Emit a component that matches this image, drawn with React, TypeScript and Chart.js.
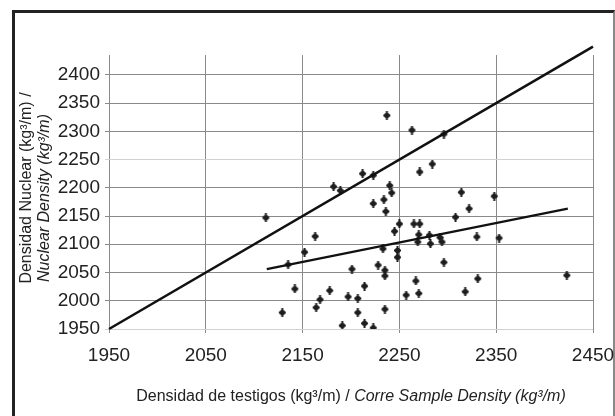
import { useEffect, useRef } from "react";
import { Chart, registerables } from "chart.js";
Chart.register(...registerables);

const coreDensity = [
  2112, 2163, 2152, 2135, 2142, 2178, 2168, 2164, 2129, 2197, 2191,
  2223, 2234, 2236, 2250, 2245, 2265, 2271, 2270, 2269, 2281, 2282,
  2292, 2294, 2308, 2322, 2233, 2248, 2248, 2296, 2201, 2228, 2235,
  2235, 2214, 2267, 2270, 2257, 2318, 2207, 2207, 2235, 2214, 2223,
  2237, 2263, 2296, 2284, 2271, 2212, 2223, 2182, 2189, 2240, 2242,
  2314, 2348, 2330, 2353, 2331, 2423,
];
const nuclearDensity = [
  2147, 2114, 2086, 2064, 2021, 2018, 2002, 1988, 1979, 2007, 1956,
  2172, 2179, 2158, 2136, 2123, 2136, 2136, 2117, 2104, 2116, 2101,
  2112, 2104, 2148, 2163, 2092, 2089, 2077, 2068, 2056, 2063, 2054,
  2044, 2026, 2035, 2013, 2010, 2016, 2004, 1979, 1985, 1960, 1952,
  2328, 2302, 2295, 2242, 2228, 2225, 2222, 2202, 2195, 2204, 2191,
  2192, 2185, 2113, 2111, 2039, 2045,
];
const identityX = [1950, 2450];
const identityY = [1950, 2450];
const trendX = [2113, 2424];
const trendY = [2056, 2163];
const xTicks = [1950, 2050, 2150, 2250, 2350, 2450];
const yTicks = [1950, 2000, 2050, 2100, 2150, 2200, 2250, 2300, 2350, 2400];
const xTitleA = "Densidad de testigos (kg³/m) / ";
const xTitleB = "Corre Sample Density (kg³/m)";
const yTitleA = "Densidad Nuclear (kg³/m) /";
const yTitleB = "Nuclear Density (kg³/m)";

const FONT = "'Liberation Sans', Arial, sans-serif";
const TITLE_SIZE = 16;

function makeMarker() {
  const c = document.createElement("canvas");
  c.width = 9;
  c.height = 9;
  const g = c.getContext("2d")!;
  g.fillStyle = "#1e1e1e";
  g.fillRect(3.5, 0, 2, 9);
  g.fillRect(1, 3.5, 7, 2);
  g.beginPath();
  g.arc(4.5, 4.5, 2.7, 0, Math.PI * 2);
  g.fill();
  return c;
}

const titlePlugin = {
  id: "titles",
  afterDraw(chart: any) {
    const ctx = chart.ctx as CanvasRenderingContext2D;
    const a = chart.chartArea;
    ctx.save();
    ctx.fillStyle = "#222";
    ctx.textBaseline = "middle";
    const normal = `${TITLE_SIZE}px ${FONT}`;
    const italic = `italic ${TITLE_SIZE}px ${FONT}`;
    // x title
    ctx.font = normal;
    const wA = ctx.measureText(xTitleA).width;
    ctx.font = italic;
    const wB = ctx.measureText(xTitleB).width;
    const cx = (a.left + a.right) / 2;
    const x0 = cx - (wA + wB) / 2;
    ctx.textAlign = "left";
    ctx.font = normal;
    ctx.fillText(xTitleA, x0, 397);
    ctx.font = italic;
    ctx.fillText(xTitleB, x0 + wA, 397);
    // y title
    const cy = (a.top + a.bottom) / 2;
    ctx.translate(0, cy);
    ctx.rotate(-Math.PI / 2);
    ctx.textAlign = "center";
    ctx.font = normal;
    ctx.fillText(yTitleA, 4, 27);
    ctx.font = italic;
    ctx.fillText(yTitleB, -6, 45);
    ctx.restore();
  },
};

export default function App() {
  const ref = useRef<HTMLCanvasElement>(null);
  useEffect(() => {
    const marker = makeMarker();
    const pts = coreDensity.map((x, i) => ({ x, y: nuclearDensity[i] }));
    const gridColor = (c: any) =>
      c.tick && (c.tick.value === 2250 || c.tick.value === 1950) ? "#d2d2d2" : "#8a8a8a";
    const chart = new Chart(ref.current!, {
      type: "scatter",
      data: {
        datasets: [
          {
            data: identityX.map((x, i) => ({ x, y: identityY[i] })),
            showLine: true,
            borderColor: "#111",
            borderWidth: 2.6,
            pointRadius: 0,
            clip: false as any,
          },
          {
            data: trendX.map((x, i) => ({ x, y: trendY[i] })),
            showLine: true,
            borderColor: "#111",
            borderWidth: 2.2,
            pointRadius: 0,
          },
          {
            data: pts,
            pointStyle: marker as any,
            pointRadius: 4,
            showLine: false,
          },
        ],
      },
      options: {
        animation: false,
        responsive: false,
        layout: { padding: { top: 55, right: 22, left: 0, bottom: 0 } },
        plugins: { legend: { display: false }, tooltip: { enabled: false } },
        scales: {
          x: {
            type: "linear",
            min: 1950,
            max: 2450,
            afterBuildTicks: (s: any) => {
              s.ticks = xTicks.map((v) => ({ value: v }));
            },
            afterFit: (s: any) => {
              s.height = 87;
              s.paddingLeft = 0;
              s.paddingRight = 0;
            },
            border: { display: false },
            grid: { color: "#8a8a8a", lineWidth: 1, tickLength: 4 },
            ticks: {
              color: "#222",
              font: { family: FONT, size: 19 },
              padding: 11,
              maxRotation: 0,
              autoSkip: false,
              callback: (v: any) => String(v),
            },
          },
          y: {
            type: "linear",
            min: 1950,
            max: 2435,
            afterBuildTicks: (s: any) => {
              s.ticks = yTicks.map((v) => ({ value: v }));
            },
            afterFit: (s: any) => {
              s.width = 109;
              s.paddingTop = 0;
              s.paddingBottom = 0;
            },
            border: { display: false },
            grid: { color: gridColor, lineWidth: 1, tickLength: 4 },
            ticks: {
              color: "#222",
              font: { family: FONT, size: 19 },
              padding: 5,
              autoSkip: false,
              callback: (v: any) => String(v),
            },
          },
        },
      },
      plugins: [titlePlugin],
    });
    return () => chart.destroy();
  }, []);
  return (
    <div
      style={{
        position: "fixed",
        left: 0,
        top: 0,
        width: 615,
        height: 416,
        overflow: "hidden",
        background: "#fff",
      }}
    >
      <div
        style={{
          position: "absolute",
          left: 12,
          top: 10,
          width: 598,
          height: 420,
          borderLeft: "3px solid #222",
          borderTop: "3px solid #222",
          borderRight: "2px solid #8a8a8a",
        }}
      />
      <canvas
        ref={ref}
        width={615}
        height={416}
        style={{ position: "absolute", left: 0, top: 0, width: 615, height: 416 }}
      />
    </div>
  );
}
